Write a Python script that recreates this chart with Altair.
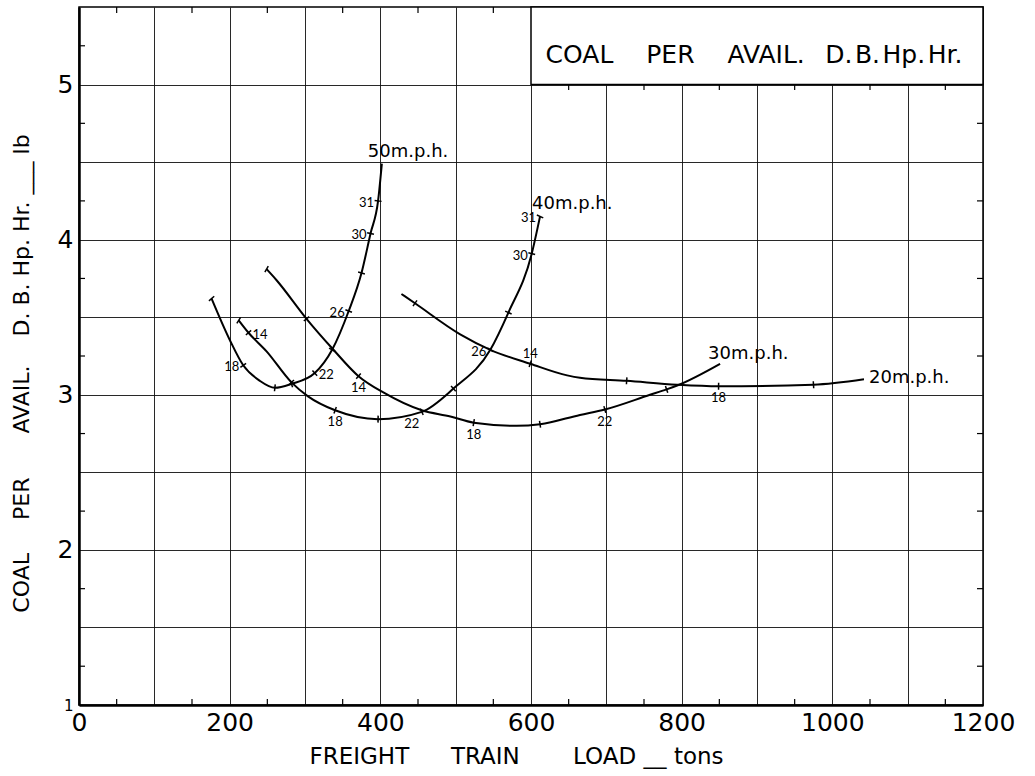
import math
import altair as alt
import numpy as np
import pandas as pd

# ---------------- data ----------------
speeds = ["50m.p.h.", "40m.p.h.", "30m.p.h.", "20m.p.h."]

x50 = [176, 200.5, 218, 240, 260, 282, 313, 336, 358, 375, 387, 397, 402]
y50 = [3.62, 3.35, 3.19, 3.09, 3.045, 3.07, 3.14, 3.29, 3.54, 3.785, 4.04, 4.25, 4.49]

x40 = [212, 225, 249, 282, 304, 340, 397, 455, 497, 546, 570, 601, 612]
y40 = [3.48, 3.40, 3.28, 3.08, 2.99, 2.90, 2.843, 2.89, 3.04, 3.29, 3.53, 3.91, 4.15]

x30 = [249, 262, 302, 336, 371, 404, 455, 493, 524, 581, 612, 665, 698, 758, 780, 794, 851]
y30 = [3.81, 3.74, 3.49, 3.30, 3.12, 3.015, 2.90, 2.86, 2.82, 2.80, 2.81, 2.87, 2.905, 3.0, 3.035, 3.06, 3.20]

x20 = [428, 446, 506, 546, 599, 648, 665, 727, 794, 849, 975, 1042]
y20 = [3.65, 3.59, 3.39, 3.29, 3.20, 3.125, 3.11, 3.09, 3.065, 3.055, 3.065, 3.10]

# marked points on each curve and their small numbers
tick_x50 = [176, 218, 260, 282, 313, 336, 358, 375, 387, 397]
tick_l50 = ["", "18", "", "", "22", "", "26", "", "30", "31"]
tick_x40 = [212, 225, 282, 340, 397, 455, 497, 546, 570, 601, 612]
tick_l40 = ["", "14", "", "18", "", "22", "", "26", "", "30", "31"]
tick_x30 = [249, 302, 371, 524, 612, 698, 780]
tick_l30 = ["", "", "14", "18", "", "22", ""]
tick_x20 = [446, 599, 727, 849, 975]
tick_l20 = ["", "14", "", "18", ""]

x_grid = list(range(0, 1201, 100))
y_grid = [1, 1.5, 2, 2.5, 3, 3.5, 4, 4.5, 5]
x_minor = list(range(50, 1200, 100))
y_minor = [1.25, 1.75, 2.25, 2.75, 3.25, 3.75, 4.25, 4.75, 5.25]

box_x = [600, 1200]
box_y = [5.0, 5.5]

EM, EN, NB, HS = "\u2003", "\u2002", "\u00a0", "\u200a"
box_text = "COAL" + EM + NB + "PER" + EM + NB + "AVAIL." + EN + NB + "D." + HS + "B." + HS + "Hp." + HS + "Hr."
y_title = ("COAL" + EM + EN + "PER" + EM + EM + "AVAIL." + EM + NB
           + "D." + NB + "B." + NB + "Hp." + NB + "Hr." + NB + "___" + NB + "lb")
x_title = "FREIGHT" + EM + EN + NB + "TRAIN" + EM + EM + NB + "LOAD" + NB + "__" + NB + "tons"

# ---------------- styling ----------------
W, H = 904, 698
FONT = "DejaVu Sans"
SMALL_FONT = "Lato"
X_DOM = [0, 1200]
Y_DOM = [1, 5.5]
kx = W / (X_DOM[1] - X_DOM[0])
ky = H / (Y_DOM[1] - Y_DOM[0])

side = {
    ("50m.p.h.", "18"): "l", ("50m.p.h.", "22"): "r", ("50m.p.h.", "26"): "l",
    ("50m.p.h.", "30"): "l", ("50m.p.h.", "31"): "l",
    ("40m.p.h.", "14"): "r", ("40m.p.h.", "18"): "b", ("40m.p.h.", "22"): "bl",
    ("40m.p.h.", "26"): "l", ("40m.p.h.", "30"): "l", ("40m.p.h.", "31"): "l",
    ("30m.p.h.", "14"): "b", ("30m.p.h.", "18"): "b", ("30m.p.h.", "22"): "b",
    ("20m.p.h.", "14"): "a", ("20m.p.h.", "18"): "b",
}
side_style = {
    "l": dict(align="right", dx=-4, dy=2),
    "r": dict(align="left", dx=4, dy=2),
    "b": dict(align="center", dx=0, dy=12),
    "bl": dict(align="center", dx=-10, dy=12),
    "a": dict(align="center", dx=0, dy=-10),
}
name_offset = {
    "50m.p.h.": (-14, -12),
    "40m.p.h.": (-8, -12),
    "30m.p.h.": (-12, -10),
    "20m.p.h.": (5, -1),
}

# ---------------- tables ----------------
curves = {
    "50m.p.h.": (x50, y50, tick_x50, tick_l50),
    "40m.p.h.": (x40, y40, tick_x40, tick_l40),
    "30m.p.h.": (x30, y30, tick_x30, tick_l30),
    "20m.p.h.": (x20, y20, tick_x20, tick_l20),
}
line_rows, tick_rows, name_rows = [], [], []
for s in speeds:
    xs, ys, txs, tls = curves[s]
    for a, b in zip(xs, ys):
        line_rows.append({"speed": s, "tons": a, "coal": b})
    for tx, tl in zip(txs, tls):
        ty = float(np.interp(tx, xs, ys))
        d = (np.interp(tx + 3, xs, ys) - np.interp(tx - 3, xs, ys)) / 6.0
        ang = math.degrees(math.atan2(-d * ky, kx)) % 360
        tick_rows.append({"speed": s, "tons": tx, "coal": ty, "label": tl,
                          "ang": ang, "side": side.get((s, tl), "")})
    name_rows.append({"speed": s, "tons": xs[-1], "coal": ys[-1]})

lines_df = pd.DataFrame(line_rows)
ticks_df = pd.DataFrame(tick_rows)
names_df = pd.DataFrame(name_rows)
box_df = pd.DataFrame({"x1": [box_x[0]], "x2": [box_x[1]], "y1": [box_y[0]], "y2": [box_y[1]],
                       "tx": [(box_x[0] + box_x[1]) / 2 - 4], "ty": [box_y[0] + 0.19], "t": [box_text]})
xminor_df = pd.DataFrame({"tons": x_minor})
yminor_df = pd.DataFrame({"coal": y_minor})

xs_ = alt.Scale(domain=X_DOM, nice=False, zero=False)
ys_ = alt.Scale(domain=Y_DOM, nice=False, zero=False)

x_axis = alt.Axis(values=x_grid, labelExpr="datum.value % 200 == 0 ? datum.label : ''",
                  format="d", grid=True, ticks=False, domain=True, domainColor="black",
                  domainWidth=2.5, gridColor="#111", gridWidth=1, gridOpacity=0.9,
                  labelFont=FONT, labelFontSize=25, labelColor="black", labelPadding=5,
                  labelFlush=False, title=x_title, titleFont=FONT, titleFontSize=23,
                  titleFontWeight="normal", titleColor="black", titleX=437, titleY=51,
                  titleBaseline="middle", titleAlign="center")
y_axis = alt.Axis(values=y_grid, labelExpr="datum.value % 1 == 0 ? datum.label : ''",
                  format="~g",
                  grid=True, ticks=False, domain=True, domainColor="black", domainWidth=2.5,
                  gridColor="#111", gridWidth=1, gridOpacity=0.9,
                  labelFont=FONT, labelFontSize={"condition": {"test": "datum.value == 1", "value": 15}, "value": 25},
                  labelColor="black", labelPadding=6, labelFlush=False,
                  title=y_title, titleFont=FONT, titleFontSize=22, titleFontWeight="normal",
                  titleColor="black", titleX=-58, titleY=366, titleAngle=270,
                  titleBaseline="middle", titleAlign="center")

lines = alt.Chart(lines_df).mark_line(color="black", strokeWidth=2, interpolate="monotone").encode(
    x=alt.X("tons:Q", scale=xs_, axis=x_axis),
    y=alt.Y("coal:Q", scale=ys_, axis=y_axis),
    detail="speed:N",
    order="tons:Q",
)

tick_marks = alt.Chart(ticks_df).mark_point(shape="M0,-1L0,1", size=49, filled=False,
                                            stroke="black", strokeWidth=1.5, opacity=1).encode(
    x=alt.X("tons:Q", scale=xs_), y=alt.Y("coal:Q", scale=ys_),
    angle=alt.Angle("ang:Q", scale=None),
)

layers = [lines, tick_marks]
for k, st in side_style.items():
    layers.append(
        alt.Chart(ticks_df).transform_filter(alt.datum.side == k).mark_text(
            font=SMALL_FONT, fontSize=13, color="black", baseline="middle", **st
        ).encode(x=alt.X("tons:Q", scale=xs_), y=alt.Y("coal:Q", scale=ys_), text="label:N")
    )

for s in speeds:
    dx, dy = name_offset[s]
    layers.append(
        alt.Chart(names_df).transform_filter(alt.datum.speed == s).mark_text(
            font=FONT, fontSize=18, color="black", align="left", baseline="middle", dx=dx, dy=dy
        ).encode(x=alt.X("tons:Q", scale=xs_), y=alt.Y("coal:Q", scale=ys_), text="speed:N")
    )

# minor ticks on the frame
tk = 6
layers.append(alt.Chart(xminor_df).mark_rule(color="black", strokeWidth=1.2).encode(
    x=alt.X("tons:Q", scale=xs_), y=alt.value(H), y2=alt.value(H - tk)))
layers.append(alt.Chart(xminor_df).transform_filter(alt.datum.tons < box_x[0]).mark_rule(
    color="black", strokeWidth=1.2).encode(x=alt.X("tons:Q", scale=xs_), y=alt.value(0), y2=alt.value(tk)))
layers.append(alt.Chart(yminor_df).mark_rule(color="black", strokeWidth=1.2).encode(
    y=alt.Y("coal:Q", scale=ys_), x=alt.value(0), x2=alt.value(tk)))
layers.append(alt.Chart(yminor_df).mark_rule(color="black", strokeWidth=1.2).encode(
    y=alt.Y("coal:Q", scale=ys_), x=alt.value(W), x2=alt.value(W - tk)))

# inset title box
layers.append(alt.Chart(box_df).mark_rect(fill="white", stroke="black", strokeWidth=1.5).encode(
    x=alt.X("x1:Q", scale=xs_), x2="x2:Q", y=alt.Y("y1:Q", scale=ys_), y2="y2:Q"))
layers.append(alt.Chart(xminor_df).transform_filter(alt.datum.tons > box_x[0]).mark_rule(
    color="black", strokeWidth=1.2).encode(x=alt.X("tons:Q", scale=xs_),
                                           y=alt.datum(box_y[0]), y2=alt.datum(box_y[0] - 0.035)))
layers.append(alt.Chart(box_df).mark_text(font=FONT, fontSize=25, color="black",
                                          align="center", baseline="middle").encode(
    x=alt.X("tx:Q", scale=xs_), y=alt.Y("ty:Q", scale=ys_), text="t:N"))

chart = alt.layer(*layers).properties(
    width=W, height=H,
    padding={"left": 79, "top": 7, "right": 52, "bottom": 71},
    autosize=alt.AutoSizeParams(type="none"),
    background="white",
).configure_view(stroke="black", strokeWidth=1.5)

chart.save("out.html", embed_options={"renderer": "svg", "actions": False})
